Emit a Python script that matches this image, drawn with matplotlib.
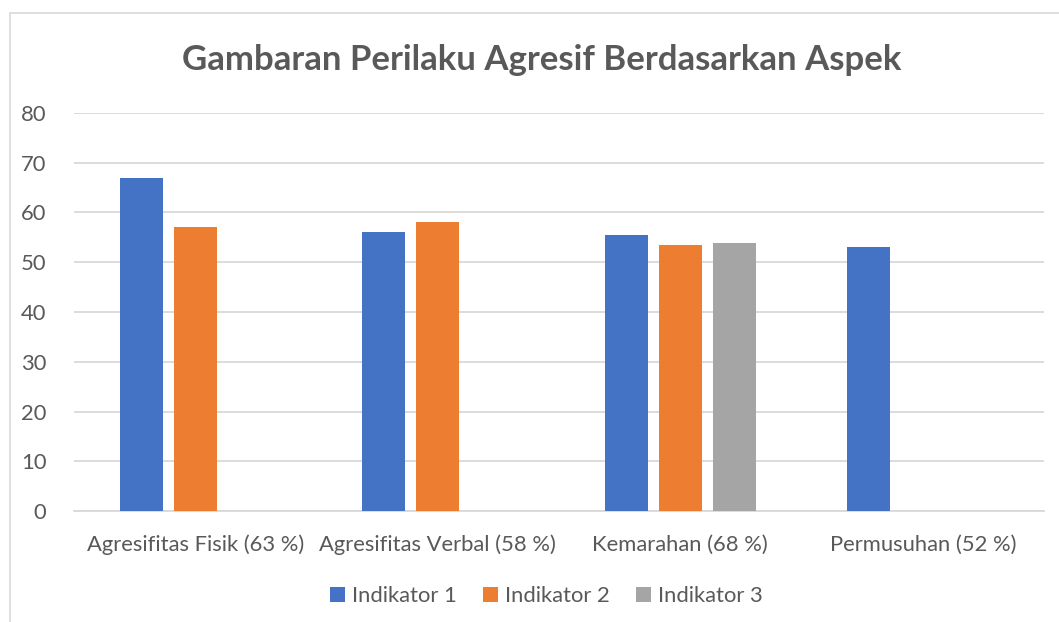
import matplotlib
matplotlib.use("Agg")
import matplotlib.pyplot as plt
import numpy as np
from matplotlib.patches import Rectangle

categories = ["Agresifitas Fisik (63 %)", "Agresifitas Verbal (58 %)",
              "Kemarahan (68 %)", "Permusuhan (52 %)"]
series_names = ["Indikator 1", "Indikator 2", "Indikator 3"]
indikator1 = [67, 56, 55.4, 53.1]
indikator2 = [57, 58, 53.5, np.nan]
indikator3 = [np.nan, np.nan, 53.9, np.nan]
colors = ["#4472C4", "#ED7D31", "#A5A5A5"]
title = "Gambaran Perilaku Agresif Berdasarkan Aspek"

plt.rcParams['font.family'] = ['Lato', 'DejaVu Sans']
W, H = 1059, 622
fig = plt.figure(figsize=(W / 100, H / 100), dpi=100)
ax = fig.add_axes([74 / W, 1 - 511 / H, (1044 - 74) / W, (511 - 113) / H])

# chart border
fig.patches.append(Rectangle((10 / W, -0.1), 1.2, 1 - 13 / H + 0.1,
                             transform=fig.transFigure, fill=False,
                             edgecolor="#d9d9d9", linewidth=1.2))

x = np.arange(len(categories))
width = 43 / 242.5
step = 54 / 242.5
for i, (vals, c, name) in enumerate(zip([indikator1, indikator2, indikator3], colors, series_names)):
    ax.bar(x + (i - 1) * step, vals, width=width, color=c, label=name, zorder=3)

ax.set_xlim(-0.5, len(categories) - 0.5)
ax.set_ylim(0, 80)
ax.set_yticks(np.arange(0, 81, 10))
ax.set_xticks(x)
ax.set_xticklabels(categories)
ax.grid(axis="y", color="#d9d9d9", linewidth=1.3, zorder=0)
for s in ["top", "right", "left"]:
    ax.spines[s].set_visible(False)
ax.spines["bottom"].set_color("#d9d9d9")
ax.spines["bottom"].set_linewidth(1.3)
ax.tick_params(axis="both", length=0, colors="#595959", labelsize=15.8)
ax.tick_params(axis="x", pad=17)
ax.tick_params(axis="y", pad=20)

fig.text(542 / W, 1 - 60 / H, title, ha="center", va="center",
         fontsize=25, fontweight="bold", color="#595959")

leg = fig.legend(loc="center", bbox_to_anchor=(546 / W, 1 - 596 / H), ncol=3,
                 frameon=False, fontsize=15.8, handlelength=0.7, handleheight=0.7,
                 handletextpad=0.3, columnspacing=1.2, labelcolor="#595959")

fig.savefig("out.png", dpi=100)
